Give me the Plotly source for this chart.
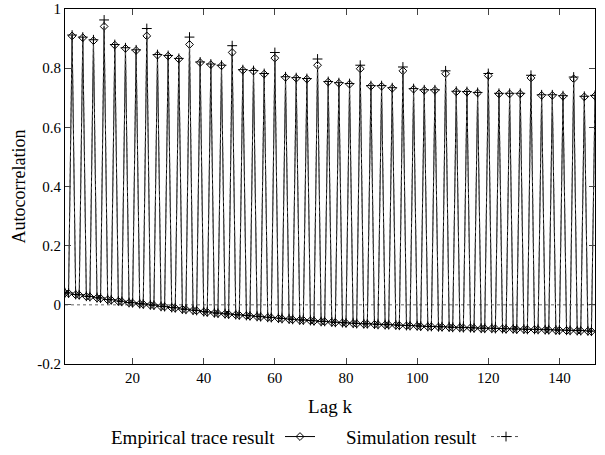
import plotly.graph_objects as go

# Lags 1..150; peaks at multiples of 3
peak_lags = list(range(3, 151, 3))
emp_peaks = [0.909, 0.903, 0.893, 0.941, 0.878, 0.867, 0.860, 0.909, 0.844, 0.841,
             0.831, 0.880, 0.819, 0.812, 0.808, 0.853, 0.793, 0.790, 0.780, 0.834,
             0.769, 0.766, 0.763, 0.810, 0.753, 0.749, 0.746, 0.798, 0.739, 0.739,
             0.732, 0.791, 0.729, 0.725, 0.725, 0.781, 0.720, 0.719, 0.716, 0.775,
             0.713, 0.713, 0.713, 0.767, 0.708, 0.708, 0.705, 0.764, 0.703, 0.706]
sim_peaks = [0.912, 0.905, 0.896, 0.963, 0.880, 0.869, 0.862, 0.934, 0.846, 0.843,
             0.833, 0.905, 0.821, 0.814, 0.810, 0.876, 0.795, 0.792, 0.782, 0.853,
             0.771, 0.768, 0.765, 0.831, 0.755, 0.751, 0.748, 0.810, 0.741, 0.741,
             0.734, 0.804, 0.731, 0.727, 0.727, 0.791, 0.722, 0.721, 0.718, 0.782,
             0.715, 0.715, 0.715, 0.776, 0.710, 0.710, 0.707, 0.770, 0.705, 0.708]
# values at lags 3k+1
emp_low_a = [0.040, 0.034, 0.028, 0.023, 0.017, 0.012, 0.007, 0.003, -0.001, -0.006,
             -0.010, -0.015, -0.019, -0.024, -0.028, -0.031, -0.034, -0.037, -0.040, -0.043,
             -0.046, -0.049, -0.052, -0.054, -0.057, -0.059, -0.061, -0.063, -0.065, -0.066,
             -0.068, -0.069, -0.071, -0.072, -0.074, -0.075, -0.076, -0.077, -0.078, -0.080,
             -0.080, -0.081, -0.082, -0.083, -0.084, -0.085, -0.086, -0.087, -0.088, -0.089]
# values at lags 3k+2
emp_low_b = [0.039, 0.033, 0.027, 0.022, 0.016, 0.011, 0.006, 0.002, -0.002, -0.007,
             -0.011, -0.016, -0.020, -0.025, -0.029, -0.032, -0.035, -0.038, -0.041, -0.044,
             -0.047, -0.050, -0.052, -0.055, -0.057, -0.060, -0.062, -0.064, -0.065, -0.067,
             -0.068, -0.070, -0.071, -0.073, -0.074, -0.075, -0.077, -0.078, -0.079, -0.080,
             -0.081, -0.082, -0.083, -0.084, -0.084, -0.085, -0.086, -0.087, -0.088, -0.090]
sim_low_a = [0.041, 0.035, 0.029, 0.024, 0.018, 0.013, 0.008, 0.004, 0.000, -0.005,
             -0.009, -0.014, -0.018, -0.023, -0.027, -0.030, -0.033, -0.036, -0.039, -0.042,
             -0.045, -0.048, -0.051, -0.053, -0.056, -0.058, -0.060, -0.062, -0.064, -0.065,
             -0.067, -0.068, -0.070, -0.071, -0.073, -0.074, -0.075, -0.076, -0.077, -0.079,
             -0.079, -0.080, -0.081, -0.082, -0.083, -0.084, -0.085, -0.086, -0.087, -0.088]
sim_low_b = [0.040, 0.034, 0.028, 0.023, 0.017, 0.012, 0.007, 0.003, -0.001, -0.006,
             -0.010, -0.015, -0.019, -0.024, -0.028, -0.031, -0.034, -0.037, -0.040, -0.043,
             -0.046, -0.049, -0.051, -0.054, -0.056, -0.059, -0.061, -0.063, -0.064, -0.066,
             -0.067, -0.069, -0.070, -0.072, -0.073, -0.074, -0.076, -0.077, -0.078, -0.079,
             -0.080, -0.081, -0.082, -0.083, -0.083, -0.084, -0.085, -0.086, -0.087, -0.089]

x_ticks = [20, 40, 60, 80, 100, 120, 140]
y_ticks = [-0.2, 0, 0.2, 0.4, 0.6, 0.8, 1]
y_ticktext = ["-0.2", "0", "0.2", "0.4", "0.6", "0.8", "1"]


def build(low_a, low_b, peaks):
    lags, vals = [], []
    for k in range(len(peaks)):
        lags += [3 * k + 1, 3 * k + 2, 3 * k + 3]
        vals += [low_a[k], low_b[k], peaks[k]]
    return lags, vals


lx, ly = build(emp_low_a, emp_low_b, emp_peaks)
sx, sy = build(sim_low_a, sim_low_b, sim_peaks)

FONT = "Times New Roman, Liberation Serif, DejaVu Serif, serif"

PL, PR, PT, PB = 65, 595, 9, 364
PW, PH = PR - PL, PB - PT
LEG_Y = -(437 - PB) / PH

fig = go.Figure()
fig.add_trace(go.Scatter(
    x=lx, y=ly, mode="lines+markers", name=" ", legend="legend",
    line=dict(color="black", width=1),
    marker=dict(symbol="diamond-open", size=6, color="black", line=dict(width=1)),
))
fig.add_trace(go.Scatter(
    x=sx, y=sy, mode="lines+markers", name=" ", legend="legend2",
    line=dict(color="#555555", width=1, dash="dot"),
    marker=dict(symbol="cross-thin-open", size=7, color="black", line=dict(width=1, color="black")),
))

fig.add_shape(type="line", xref="paper", x0=0, x1=1, yref="y", y0=0, y1=0,
              line=dict(color="#666666", width=1, dash="dot"), layer="below")

fig.add_annotation(text="Empirical trace result", xref="paper", yref="paper",
                   x=(277 - PL) / PW, y=LEG_Y, xanchor="right", yanchor="middle",
                   showarrow=False, font=dict(family=FONT, size=19, color="black"))
fig.add_annotation(text="Simulation result", xref="paper", yref="paper",
                   x=(479 - PL) / PW, y=LEG_Y, xanchor="right", yanchor="middle",
                   showarrow=False, font=dict(family=FONT, size=19, color="black"))

leg_common = dict(orientation="h", xanchor="left", yanchor="middle", y=LEG_Y,
                  itemwidth=30, font=dict(family=FONT, size=17), bgcolor="rgba(0,0,0,0)")

fig.update_layout(
    width=605, height=455,
    margin=dict(l=PL, r=605 - PR, t=PT, b=455 - PB, autoexpand=False),
    paper_bgcolor="white", plot_bgcolor="white",
    font=dict(family=FONT, size=14, color="black"),
    showlegend=True,
    legend=dict(x=(280 - PL) / PW, **leg_common),
    legend2=dict(x=(486 - PL) / PW, **leg_common),
    xaxis=dict(range=[1, 150], tickvals=x_ticks, ticks="inside", ticklen=6,
               showline=True, linecolor="black", linewidth=1, mirror="ticks",
               showgrid=False, zeroline=False,
               title=dict(text="Lag k", font=dict(family=FONT, size=19), standoff=14),
               tickfont=dict(family=FONT, size=15)),
    yaxis=dict(range=[-0.2, 1], tickvals=y_ticks, ticktext=y_ticktext, ticks="inside", ticklen=6,
               showline=True, linecolor="black", linewidth=1, mirror="ticks",
               showgrid=False, zeroline=False,
               title=dict(text="Autocorrelation", font=dict(family=FONT, size=18), standoff=6),
               tickfont=dict(family=FONT, size=15)),
)

fig.write_html("out.html")
